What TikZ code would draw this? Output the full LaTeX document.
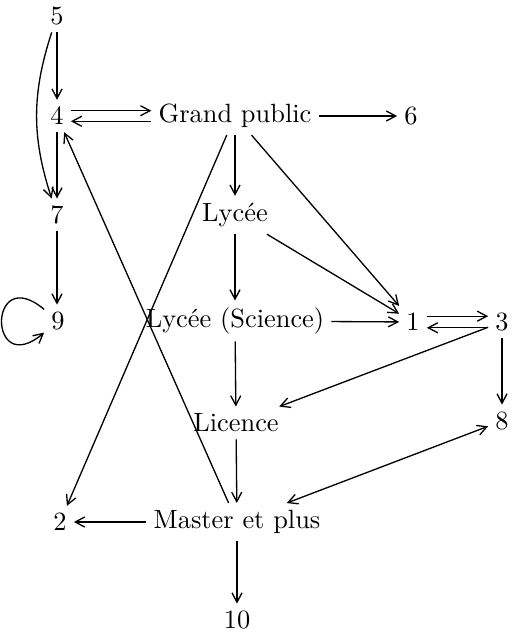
\documentclass[tikz,border=0pt]{standalone}
\usetikzlibrary{arrows.meta}
\begin{document}
\begin{tikzpicture}[x=0.379pt,y=-0.379pt, line width=0.5pt,
  >={Straight Barb[length=3.6pt,width=3.8pt,line width=0.5pt]},
  lbl/.style={inner sep=2.5pt}]
\useasboundingbox (0,0) rectangle (512,632);
\node[lbl] (n5) at (57,16) {5};
\node[lbl] (n4) at (57,116) {4};
\node[lbl] (gp) at (235,116) {Grand public};
\node[lbl] (n6) at (411,116) {6};
\node[lbl] (n7) at (57,215) {7};
\node[lbl] (ly) at (235,215) {Lycée};
\node[lbl] (n9) at (58,321) {9};
\node[lbl] (ls) at (235,321) {Lycée (Science)};
\node[lbl] (n1) at (413,322) {1};
\node[lbl] (n3) at (502,322) {3};
\node[lbl] (li) at (236,423) {Licence};
\node[lbl] (n8) at (502,421) {8};
\node[lbl] (n2) at (60,522) {2};
\node[lbl] (ma) at (237,522) {Master et plus};
\node[lbl] (n10) at (237,620) {10};

\draw[->] (n5) -- (n4);
\draw[->] (n5) to[bend right=18] (n7);
\draw[->] ([yshift=2pt]n4.east) -- ([yshift=2pt]gp.west);
\draw[<-] ([yshift=-2pt]n4.east) -- ([yshift=-2pt]gp.west);
\draw[->] (gp) -- (n6);
\draw[->] (n4) -- (n7);
\draw[->] (n7) -- (n7 |- n9.north);
\draw[->] (n9) to[out=140,in=220,min distance=28pt] (n9);
\draw[->] (gp) -- (ly);
\draw[->] (gp) -- (n2);
\draw[->] (gp) -- (n1);
\draw[->] (ly) -- (n1);
\draw[->] (ly) -- (ls);
\draw[->] (ls) -- (n1);
\draw[->] ([yshift=2.2pt]n1.east) -- ([yshift=2.2pt]n3.west);
\draw[<-] ([yshift=-2.2pt]n1.east) -- ([yshift=-2.2pt]n3.west);
\draw[->] (n3) -- (li);
\draw[->] (n3) -- (n8);
\draw[->] (ls) -- (li);
\draw[->] (li) -- (ma);
\draw[->] (ma) -- (n4);
\draw[->] (ma) -- (n2);
\draw[->] (ma) -- (n10);
\draw[<->] (ma) -- (n8);
\end{tikzpicture}
\end{document}
